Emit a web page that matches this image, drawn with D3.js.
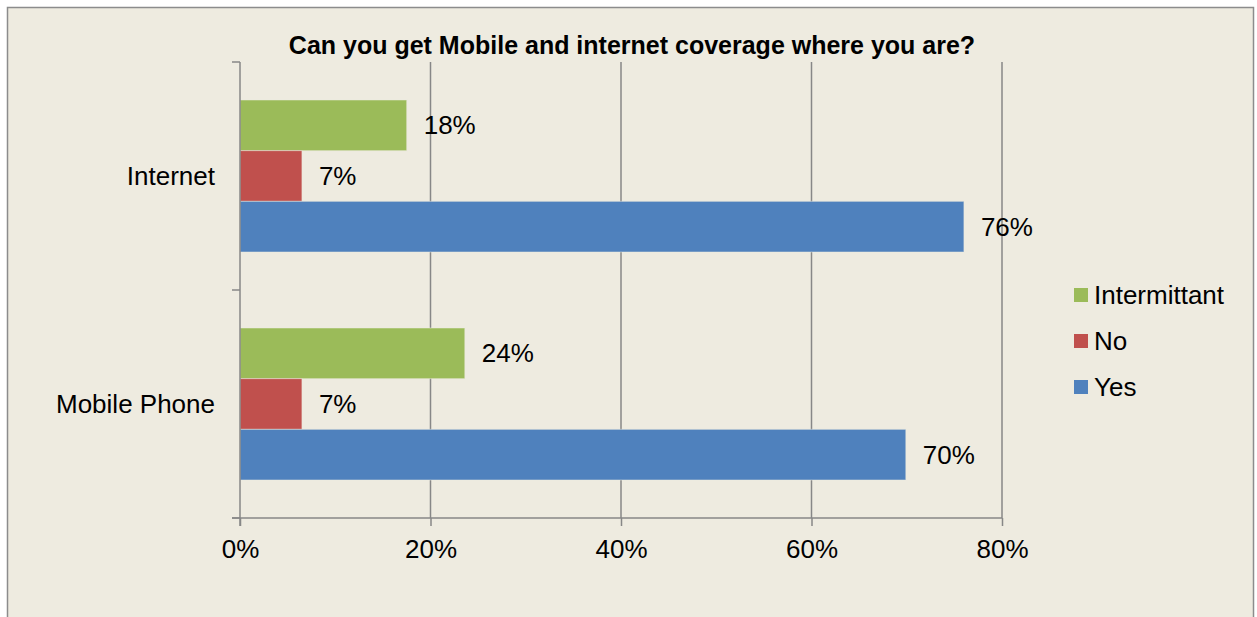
<!doctype html>
<html>
<head>
	<meta charset="utf-8">
	<title>Mobile and internet coverage</title>
	<script src="https://d3js.org/d3.v7.min.js"></script>
	<style>
	body { margin: 0; background: #fff; }
	svg text { font-family: "Liberation Sans", Arial, sans-serif; fill: #000; }
	</style>
</head>
<body>
<script>

// data
var categories = ["Internet", "Mobile Phone"];
var series = ["Intermittant", "No", "Yes"];
var colors = ["#9BBB59", "#C0504D", "#4F81BD"];
var intermittant = [17.5, 23.6];
var no = [6.5, 6.5];
var yes = [76.0, 69.9];
var labels = [["18%", "7%", "76%"], ["24%", "7%", "70%"]];
var xTicks = [0, 20, 40, 60, 80];

var values = [intermittant, no, yes];

var W = 1257, H = 617;
var FS = "26px";
var svg = d3.select("body").append("svg")
	.attr("width", W)
	.attr("height", H);

// chart background and frame
svg.append("rect")
	.attr("x", 7.5).attr("y", 7.5)
	.attr("width", 1246).attr("height", 620)
	.attr("fill", "#EEEBE0")
	.attr("stroke", "#8c8c8c")
	.attr("stroke-width", 1.5);

var plotL = 240, plotR = 1002, plotT = 62, plotB = 518;

var x = d3.scaleLinear().domain([0, 80]).range([plotL, plotR]);
var y0 = d3.scaleBand().domain(categories).range([plotT, plotB]).paddingInner(0).paddingOuter(0);

// gridlines
svg.append("g").selectAll("line")
	.data(xTicks.slice(1))
	.enter().append("line")
	.attr("x1", function(d) { return x(d); })
	.attr("x2", function(d) { return x(d); })
	.attr("y1", plotT).attr("y2", plotB)
	.attr("stroke", "#878787")
	.attr("stroke-width", 1.5);

// bars: each category band holds three bars, gap width 150%
var barH = y0.bandwidth() / 4.5;
var gap = barH * 0.75;

categories.forEach(function(cat, ci) {
	var g = svg.append("g");
	series.forEach(function(s, si) {
		var yy = y0(cat) + gap + si * barH;
		g.append("rect")
			.attr("x", x(0))
			.attr("y", yy)
			.attr("width", x(values[si][ci]) - x(0))
			.attr("height", barH)
			.attr("fill", colors[si])
			.attr("stroke", "#EEEBE0")
			.attr("stroke-opacity", 0.5)
			.attr("stroke-width", 1);
		g.append("text")
			.attr("x", x(values[si][ci]) + 17)
			.attr("y", yy + barH / 2)
			.attr("dy", "0.35em")
			.attr("font-size", FS)
			.text(labels[ci][si]);
	});
});

// x axis
var xAxis = d3.axisBottom(x)
	.tickValues(xTicks)
	.tickSize(8)
	.tickPadding(14)
	.tickFormat(function(d) { return d + "%"; });

var gx = svg.append("g")
	.attr("transform", "translate(0," + plotB + ")")
	.call(xAxis);
gx.attr("font-size", null).attr("font-family", null);
gx.select(".domain").attr("d", "M" + (plotL - 8) + ",0H" + plotR).attr("stroke", "#878787").attr("stroke-width", 1.5);
gx.selectAll(".tick line").attr("stroke", "#878787").attr("stroke-width", 1.5);
gx.selectAll(".tick text").attr("font-size", FS).attr("fill", "#000");

// y axis: ticks sit between categories
var yAxisLine = svg.append("g");
yAxisLine.append("line")
	.attr("x1", plotL).attr("x2", plotL)
	.attr("y1", plotT).attr("y2", plotB + 8)
	.attr("stroke", "#878787").attr("stroke-width", 1.5);
yAxisLine.selectAll(".ytick")
	.data([plotT, y0(categories[1]), plotB])
	.enter().append("line")
	.attr("x1", plotL - 8).attr("x2", plotL)
	.attr("y1", function(d) { return d; })
	.attr("y2", function(d) { return d; })
	.attr("stroke", "#878787").attr("stroke-width", 1.5);

yAxisLine.selectAll(".ylab")
	.data(categories)
	.enter().append("text")
	.attr("x", plotL - 25)
	.attr("y", function(d) { return y0(d) + y0.bandwidth() / 2; })
	.attr("dy", "0.35em")
	.attr("text-anchor", "end")
	.attr("font-size", FS)
	.text(function(d) { return d; });

// title
svg.append("text")
	.attr("x", 632)
	.attr("y", 45)
	.attr("dy", "0.35em")
	.attr("text-anchor", "middle")
	.attr("font-size", "25px")
	.attr("font-weight", "bold")
	.text("Can you get Mobile and internet coverage where you are?");

// legend
var legend = svg.append("g");
series.forEach(function(s, i) {
	var ly = 295 + i * 46;
	legend.append("rect")
		.attr("x", 1074).attr("y", ly - 7)
		.attr("width", 14).attr("height", 14)
		.attr("fill", colors[i]);
	legend.append("text")
		.attr("x", 1094).attr("y", ly)
		.attr("dy", "0.35em")
		.attr("font-size", FS)
		.text(s);
});

</script>
</body>
</html>
